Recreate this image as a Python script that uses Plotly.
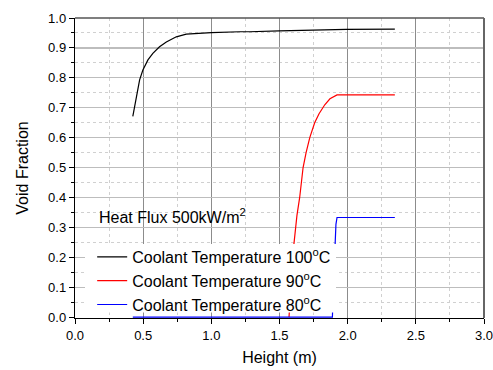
import plotly.graph_objects as go

# Data
h100 = [0.424, 0.449, 0.474, 0.498, 0.535, 0.571, 0.62, 0.67, 0.743, 0.816, 0.914, 1.0, 1.208, 1.28, 1.50, 1.99, 2.346]
v100 = [0.671, 0.737, 0.793, 0.826, 0.86, 0.882, 0.904, 0.920, 0.937, 0.946, 0.950, 0.951, 0.954, 0.954, 0.957, 0.962, 0.963]

h90 = [1.570, 1.578, 1.590, 1.607, 1.628, 1.648, 1.673, 1.695, 1.722, 1.758, 1.79, 1.832, 1.87, 1.922, 2.346]
v90 = [0.0, 0.08, 0.17, 0.25, 0.34, 0.40, 0.50, 0.55, 0.60, 0.65, 0.68, 0.71, 0.73, 0.743, 0.743]

h80 = [0.424, 1.888, 1.895, 1.905, 1.913, 1.914, 1.922, 2.346]
v80 = [0.0, 0.0, 0.1, 0.2, 0.25, 0.31, 0.333, 0.333]

names = ["Coolant Temperature 100<sup>o</sup>C",
         "Coolant Temperature 90<sup>o</sup>C",
         "Coolant Temperature 80<sup>o</sup>C"]
colors = ["#000000", "#ff0000", "#0000ff"]

xticks = [0.0, 0.5, 1.0, 1.5, 2.0, 2.5, 3.0]
yticks = [0.0, 0.1, 0.2, 0.3, 0.4, 0.5, 0.6, 0.7, 0.8, 0.9, 1.0]

font = "Liberation Sans, Arial, sans-serif"

fig = go.Figure()
for hx, vy, nm, c in zip([h100, h90, h80], [v100, v90, v80], names, colors):
    fig.add_trace(go.Scatter(x=hx, y=vy, mode="lines", name=nm, cliponaxis=False,
                             line=dict(color=c, width=1.2)))

fig.update_layout(
    width=493, height=370,
    margin=dict(l=75, r=9, t=18, b=52),
    paper_bgcolor="white", plot_bgcolor="white",
    font=dict(family=font, size=13, color="black"),
    showlegend=True,
    legend=dict(x=0.042, y=0.26, xanchor="left", yanchor="top",
                bgcolor="rgba(0,0,0,0)", borderwidth=0,
                font=dict(family=font, size=16, color="black")),
)

fig.update_xaxes(
    range=[0, 3.0], tickvals=xticks, ticktext=[f"{v:.1f}" for v in xticks],
    automargin=False, ticklabeloverflow="allow", layer="below traces",
    showline=True, linecolor="black", linewidth=1.2,
    ticks="outside", ticklen=5, tickcolor="black", tickwidth=1,
    showgrid=True, gridcolor="#8c8c8c", gridwidth=1,
    minor=dict(dtick=0.25, tick0=0, showgrid=True, gridcolor="#d0d0d0",
               griddash="dot", gridwidth=1, ticks="outside", ticklen=3, tickcolor="black"),
    zeroline=False,
    title=dict(text="Height (m)", font=dict(family=font, size=16), standoff=10),
    tickfont=dict(family=font, size=13),
)
fig.update_yaxes(
    range=[-0.003, 1.0], tickvals=yticks, ticktext=[f"{v:.1f}" for v in yticks],
    automargin=False, ticklabeloverflow="allow", layer="below traces",
    showline=True, linecolor="black", linewidth=1.2,
    ticks="outside", ticklen=5, tickcolor="black", tickwidth=1,
    showgrid=True, gridcolor="#bdbdbd", gridwidth=1.3,
    minor=dict(dtick=0.05, tick0=0, showgrid=True, gridcolor="#d0d0d0",
               griddash="dot", gridwidth=1, ticks="outside", ticklen=3, tickcolor="black"),
    zeroline=False,
    title=dict(text="Void Fraction", font=dict(family=font, size=16), standoff=15),
    tickfont=dict(family=font, size=13),
)

# frame top and right
fig.add_shape(type="line", xref="paper", yref="paper", x0=0, x1=1, y0=1, y1=1,
              line=dict(color="#555555", width=1.5), layer="above")
fig.add_shape(type="line", xref="paper", yref="paper", x0=1, x1=1, y0=0, y1=1,
              line=dict(color="#666666", width=2), layer="above")

# white backing of the legend (covers curves like the reference)
fig.add_shape(type="rect", xref="paper", yref="paper",
              x0=(85 - 75) / 409, x1=(336 - 75) / 409,
              y0=(318 - 312.5) / 300, y1=(318 - 244) / 300,
              fillcolor="white", line=dict(width=0), layer="above")

# Heat flux label box
fig.add_shape(type="rect", xref="paper", yref="paper",
              x0=(83 - 75) / 409, x1=(252 - 75) / 409,
              y0=(318 - 229) / 300, y1=(318 - 199) / 300,
              fillcolor="white", line=dict(width=0), layer="between")
fig.add_annotation(xref="paper", yref="paper", x=(97 - 75) / 409, y=(318 - 216) / 300,
                   xanchor="left", yanchor="middle", showarrow=False,
                   text="Heat Flux 500kW/m<sup>2</sup>",
                   font=dict(family=font, size=16, color="black"))

fig.write_html("out.html", config={"displayModeBar": False, "staticPlot": True},
               post_script="document.body.style.margin='0';document.body.style.overflow='hidden';")
